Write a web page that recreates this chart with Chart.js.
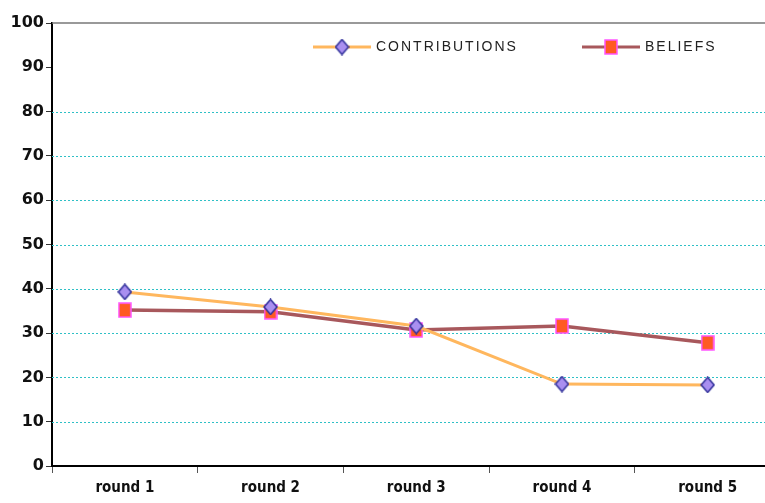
<!DOCTYPE html>
<html>
<head>
<meta charset="utf-8">
<script src="https://cdn.jsdelivr.net/npm/chart.js@4/dist/chart.umd.min.js"></script>
<style>
  html, body { margin: 0; padding: 0; background: #fff; overflow: hidden; }
</style>
</head>
<body>
<canvas id="chart" width="788" height="503"></canvas>
<script>
"use strict";

const rounds = ["round 1", "round 2", "round 3", "round 4", "round 5"];
const contributions = [39.3, 35.9, 31.6, 18.5, 18.3];
const beliefs = [35.2, 34.8, 30.7, 31.6, 27.8];
const yTicks = [0, 10, 20, 30, 40, 50, 60, 70, 80, 90, 100];
const dottedLines = [10, 20, 30, 40, 50, 60, 70, 80];

// marker images
function diamond() {
  const c = document.createElement("canvas");
  c.width = 15; c.height = 17;
  const g = c.getContext("2d");
  g.beginPath();
  g.moveTo(7.5, 1); g.lineTo(14, 8.5); g.lineTo(7.5, 16); g.lineTo(1, 8.5);
  g.closePath();
  g.fillStyle = "#a98ff0"; g.fill();
  g.strokeStyle = "#2f2f9a"; g.lineWidth = 1.5; g.stroke();
  return c;
}
function square() {
  const c = document.createElement("canvas");
  c.width = 14; c.height = 16;
  const g = c.getContext("2d");
  g.fillStyle = "#ff5a22"; g.fillRect(1, 1, 12, 14);
  g.strokeStyle = "#ff55ff"; g.lineWidth = 1.5; g.strokeRect(1, 1, 12, 14);
  return c;
}
const diamondImg = diamond();
const squareImg = square();

// gridlines: dotted cyan, solid grey at the top
const gridPlugin = {
  id: "gridPlugin",
  beforeDatasetsDraw(chart) {
    const ctx = chart.ctx, a = chart.chartArea, y = chart.scales.y;
    ctx.save();
    ctx.lineWidth = 1;
    ctx.strokeStyle = "#2fc0c6";
    ctx.setLineDash([2, 2]);
    dottedLines.forEach(v => {
      const py = Math.round(y.getPixelForValue(v)) + 0.5;
      ctx.beginPath(); ctx.moveTo(a.left, py); ctx.lineTo(a.right, py); ctx.stroke();
    });
    ctx.setLineDash([]);
    ctx.strokeStyle = "#777";
    ctx.lineWidth = 1.5;
    const top = y.getPixelForValue(100);
    ctx.beginPath(); ctx.moveTo(a.left, top); ctx.lineTo(a.right, top); ctx.stroke();
    ctx.restore();
  }
};

// legend drawn inside the plot, line + marker + label
const insideLegend = {
  id: "insideLegend",
  afterDraw(chart) {
    const ctx = chart.ctx;
    const items = [
      { ds: chart.data.datasets[0], x: 313 },
      { ds: chart.data.datasets[1], x: 582 }
    ];
    const y = 47;
    ctx.save();
    items.forEach(it => {
      ctx.strokeStyle = it.ds.borderColor;
      ctx.lineWidth = 3;
      ctx.beginPath();
      ctx.moveTo(it.x, y);
      ctx.lineTo(it.x + 58, y);
      ctx.stroke();
      const img = it.ds.pointStyle;
      ctx.drawImage(img, it.x + 29 - img.width / 2, y - img.height / 2);
      ctx.fillStyle = "#222";
      ctx.font = "14px 'Liberation Sans', sans-serif";
      ctx.textBaseline = "middle";
      ctx.letterSpacing = "2px";
      ctx.fillText(it.ds.label, it.x + 63, y);
    });
    ctx.restore();
  }
};

new Chart("chart", {
  type: "line",
  data: {
    labels: rounds,
    datasets: [{
      label: "CONTRIBUTIONS",
      data: contributions,
      borderColor: "#ffb75e",
      borderWidth: 3,
      lineTension: 0,
      pointStyle: diamondImg,
      fill: false
    }, {
      label: "BELIEFS",
      data: beliefs,
      borderColor: "#a8585c",
      borderWidth: 3.5,
      lineTension: 0,
      pointStyle: squareImg,
      fill: false
    }]
  },
  options: {
    responsive: false,
    animation: false,
    layout: { padding: { top: 23, right: 0, left: 0, bottom: 0 } },
    plugins: { legend: { display: false }, tooltip: { enabled: false } },
    scales: {
      x: {
        offset: true,
        afterFit(s) { s.height = 37; },
        border: { color: "#000", width: 2 },
        grid: { offset: true, drawOnChartArea: false, tickLength: 7, color: "#555" },
        ticks: { color: "#111", padding: 6, font: { family: "'DejaVu Sans Condensed', 'DejaVu Sans'", size: 15, weight: "bold" } }
      },
      y: {
        min: 0,
        max: 100,
        afterFit(s) { s.width = 52; },
        afterBuildTicks(s) { s.ticks = yTicks.map(v => ({ value: v })); },
        border: { color: "#000", width: 2 },
        grid: { drawOnChartArea: false, tickLength: 6, color: "#333" },
        ticks: { color: "#111", padding: 2, font: { family: "'DejaVu Sans'", size: 16, weight: "bold" } }
      }
    }
  },
  plugins: [gridPlugin, insideLegend]
});
</script>
</body>
</html>
